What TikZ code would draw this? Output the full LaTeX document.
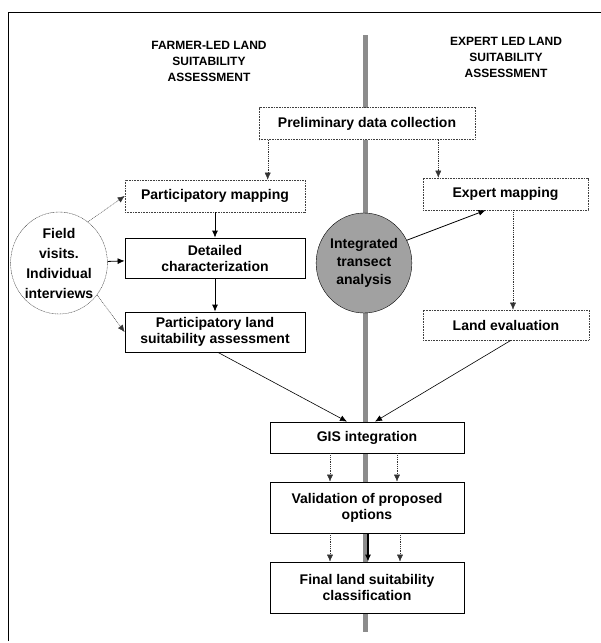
\documentclass[tikz,border=0pt]{standalone}
\usepackage{fontspec}
\setmainfont{Liberation Sans}
\usetikzlibrary{arrows.meta,shapes.geometric}

\tikzset{
	box/.style={draw,fill=white,thick,align=center,font=\fontsize{14}{16}\selectfont\bfseries},
	lightbox/.style={box,draw=black!75,semithick,dash pattern=on 1pt off 0.6pt},
	blob/.style={ellipse,draw,align=center,font=\fontsize{14}{20}\selectfont\bfseries},
	heading/.style={align=center,font=\fontsize{12}{16}\selectfont\bfseries},
	arr/.style={-{Latex[length=7pt,width=6pt]},thick},
	thinarr/.style={-{Latex[length=7pt,width=6pt]},semithick},
	dotarr/.style={-{Latex[length=7pt,width=6pt]},thin,draw=black!80,dash pattern=on 1pt off 0.8pt}
}

\begin{document}
\begin{tikzpicture}[x=1pt,y=-1pt]
	\useasboundingbox (0,0) rectangle (601,643);
	% frame and middle bar
	\draw[thick] (8,641)--(8,12)--(601,12);
	\fill[black!45] (362.5,35) rectangle (367.5,632);

	% headings
	\node[heading] (farmer) at (209,61) {FARMER-LED LAND\\SUITABILITY\\ASSESSMENT};
	\node[heading] (expert) at (506,57) {EXPERT LED LAND\\SUITABILITY\\ASSESSMENT};

	% boxes
	\node[lightbox,minimum width=216,minimum height=32] (prelim) at (367,123.5) {Preliminary data collection};
	\node[lightbox,minimum width=180,minimum height=32] (pmap) at (215,196) {Participatory mapping};
	\node[lightbox,minimum width=165,minimum height=32] (expm) at (505.5,194) {Expert mapping};
	\node[box,minimum width=180,minimum height=40] (detail) at (215,258) {Detailed\\characterization};
	\node[box,minimum width=180,minimum height=40] (pland) at (215,332) {Participatory land\\suitability assessment};
	\node[lightbox,minimum width=166,minimum height=30] (leval) at (506,325) {Land evaluation};
	\node[box,minimum width=194,minimum height=31] (gis) at (367,437.5) {GIS integration};
	\node[box,minimum width=194,minimum height=51] (valid) at (367,507.5) {Validation of proposed\\options};
	\node[box,minimum width=194,minimum height=51] (final) at (367,587.5) {Final land suitability\\classification};

	% circles
	\node[blob,draw=black!75,dash pattern=on 1pt off 0.6pt,minimum width=90,minimum height=102,inner sep=0] (field) at (59,263) {Field\\visits.\\Individual\\interviews};
	\node[blob,fill=black!37,minimum width=88,minimum height=100,inner sep=0,font=\fontsize{14}{18}\selectfont\bfseries] (transect) at (364,263) {Integrated\\transect\\analysis};

	% connectors
	\draw[dotarr] ([xshift=9]prelim.south west)--([xshift=9]prelim.south west |- pmap.north);
	\draw[dotarr] ([xshift=-37]prelim.south east)--([xshift=-37]prelim.south east |- expm.north);
	\draw[dotarr] (field.55)--(pmap.west);
	\draw[arr] (field)--(detail);
	\draw[dotarr] (field.-40)--(pland.west);
	\draw[arr] (pmap)--(detail);
	\draw[arr] (detail)--(pland);
	\draw[arr] (transect.28)--([xshift=-20]expm.south);
	\draw[dotarr] ([xshift=7.5]expm.south)--([xshift=7.5]expm.south |- leval.north);
	\draw[thinarr] ([xshift=3]pland.south)--([xshift=-20]gis.north);
	\draw[thinarr] ([xshift=5]leval.south)--([xshift=8]gis.north);
	\draw[dotarr] ([xshift=-37]gis.south)--([xshift=-37]gis.south |- valid.north);
	\draw[dotarr] ([xshift=30]gis.south)--([xshift=30]gis.south |- valid.north);
	\draw[dotarr] ([xshift=-37]valid.south)--([xshift=-37]valid.south |- final.north);
	\draw[arr,very thick] ([xshift=1]valid.south)--([xshift=1]valid.south |- final.north);
	\draw[dotarr] ([xshift=33]valid.south)--([xshift=33]valid.south |- final.north);
\end{tikzpicture}
\end{document}
